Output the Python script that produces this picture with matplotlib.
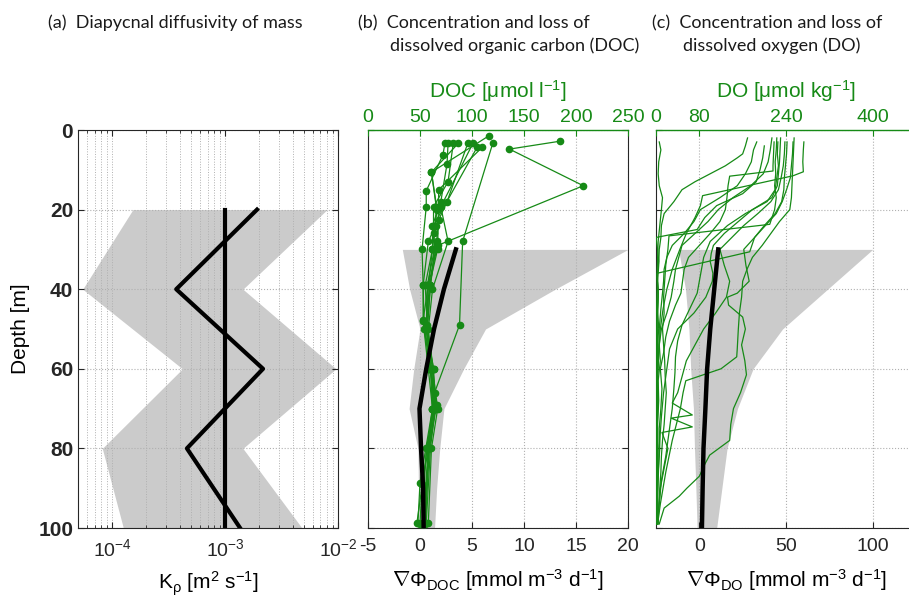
import matplotlib.pyplot as plt
from matplotlib.ticker import LogLocator, NullFormatter

plt.rcParams['font.family'] = ['Liberation Sans', 'DejaVu Sans']
plt.rcParams['mathtext.fontset'] = 'custom'
plt.rcParams['mathtext.rm'] = 'Liberation Sans'
plt.rcParams['mathtext.it'] = 'Liberation Sans:italic'
plt.rcParams['mathtext.sf'] = 'Liberation Sans'
plt.rcParams['xtick.direction'] = 'in'
plt.rcParams['ytick.direction'] = 'in'
plt.rcParams['axes.unicode_minus'] = False

green = '#168a16'
shade = '#cbcbcb'
gridcol = '#b0b0b0'
axcol = '#262626'

# ---- (a) diapycnal diffusivity ----
depth_k = [20, 40, 60, 80, 100]
k_ref = [1e-3, 1e-3, 1e-3, 1e-3, 1e-3]
k_profile = [1.92e-3, 3.7e-4, 2.17e-3, 4.6e-4, 1.36e-3]
k_low = [1.53e-4, 5.5e-5, 4.2e-4, 8.2e-5, 1.26e-4]
k_high = [8.0e-3, 1.44e-3, 9.6e-3, 1.44e-3, 4.8e-3]

# ---- (b) DOC flux divergence and DOC casts ----
depth_flux = [30, 40, 50, 60, 70, 80, 90, 100]
doc_flux_mean = [3.45, 2.3, 1.35, 0.6, -0.05, 0.1, 0.3, 0.35]
doc_flux_low = [-1.7, -1.0, 0.0, -0.6, -1.05, -0.2, -0.15, -0.1]
doc_flux_high = [20, 13, 6.3, 4.2, 2.3, 1.9, 1.6, 1.4]

doc_depths = [
    [2.8, 4.8, 14, 29, 39, 50, 60, 70, 80, 99],
    [1.5, 10.6, 20, 30, 39, 49, 60, 70, 89, 99],
    [3.3, 28, 49, 66, 80, 99],
    [3.3, 6.3, 15.3, 19.3, 29.9, 39, 50, 60, 70, 80, 98.8],
    [3.3, 8.5, 18, 24, 29.9, 39, 47.7, 60, 70, 80, 98.8],
    [3.3, 13, 19.3, 26, 29.9, 39, 50, 60, 69, 80, 98.8],
    [3.3, 10.6, 19.3, 24, 28, 39, 48, 60, 70, 88.7, 98.8],
    [3.3, 18, 22.6, 28, 39, 50, 60, 69, 80, 98.8],
    [3.3, 19.3, 28, 40, 50, 60, 70, 80, 98.8],
    [4.3, 24, 29.9, 39, 50, 60, 70, 80, 98.8],
    [4.3, 15, 29.9, 39, 50, 60, 70, 80, 98.8],
]
doc_values = [
    [185, 136, 207, 67, 58, 56, 62, 64, 56, 52],
    [116, 61, 66, 62, 55, 57, 60, 65, 52, 50],
    [120, 91, 88, 64, 58, 55],
    [74, 72, 56, 56, 52, 53, 54, 60, 62, 57, 47],
    [77, 76, 70, 62, 62, 58, 53, 61, 63, 58, 53],
    [82, 77, 63, 63, 64, 57, 56, 60, 66, 59, 55],
    [87, 61, 66, 65, 58, 53, 53, 58, 62, 50, 48],
    [96, 76, 68, 66, 60, 57, 63, 65, 60, 56],
    [101, 70, 77, 62, 58, 62, 67, 61, 58],
    [105, 63, 64, 60, 57, 60, 64, 59, 53],
    [110, 68, 67, 59, 56, 63, 62, 58, 55],
]

# ---- (c) DO flux divergence and DO profiles ----
do_flux_mean = [10.9, 8.6, 6.3, 4.5, 3.5, 2.4, 1.9, 1.5]
do_flux_low = [-12, -8, -6, -5, -3.4, -2.8, -2.0, -1.3]
do_flux_high = [100, 74, 48, 31, 22, 16, 13, 10]

do_depths = [
    [3, 5, 8, 11, 14, 17, 20, 24, 28, 32, 36, 40, 45, 50, 55, 60, 65, 70, 75, 80, 85, 90, 95, 99],
    [2, 4, 6, 7, 9, 11, 13, 15, 18, 21, 24, 27, 30, 34, 38, 42, 48, 55, 62, 70, 78, 86, 94, 99],
    [3, 5, 8, 11, 14, 17, 20, 23, 26, 29, 32, 35, 38, 41, 45, 50, 56, 62, 68, 75, 82, 90, 99],
    [4, 7, 10, 13, 16, 19, 22, 25, 27, 30, 33, 37, 41, 45, 50, 55, 60, 66, 72, 80, 88, 95, 99],
    [2, 5, 8, 11, 14, 17, 20, 23, 26, 29, 32, 35, 38, 42, 46, 50, 54, 58, 63, 68, 74, 80, 87, 94, 99],
    [3, 6, 9, 10.3, 11.6, 14, 17, 20, 23, 26, 29, 32, 35, 38, 41, 44, 48, 52, 56, 60, 65, 70, 75, 80,
     86, 92, 99],
    [2, 5, 8, 11, 14, 17, 20, 23.7, 26.6, 30, 34, 38, 42, 46, 50, 54, 58, 62, 66, 70, 74, 78, 82, 86,
     90, 95, 99],
    [3, 6, 9, 12, 15, 18, 21, 24, 28, 32, 35, 38, 41, 45, 49, 53, 57, 61, 65, 70, 76, 82, 88, 94, 99],
    [2, 5, 8, 11, 14, 17, 20, 23, 26, 29, 31, 33, 36, 38, 42, 46, 50, 55, 60, 66, 72, 80, 88, 95, 99],
    [3, 6, 9, 12, 15, 18, 21, 24, 27, 30, 34, 38, 42, 46, 50, 54, 58, 62, 66, 68.6, 71.6, 72.4, 74.6,
     76, 80, 85, 90, 95, 99],
    [3, 6, 9, 12, 15, 18, 21, 24, 27, 30.6, 36, 40, 45, 50, 56, 62, 70, 78, 86, 94, 99],
    [3, 6, 9, 12, 15, 18, 21, 24, 27, 30, 34, 38, 41, 42, 44, 47, 50, 54, 58, 61.5, 66, 70, 74, 78,
     81.7, 84, 87, 90, 92, 95, 99],
    [2, 5, 8, 11, 14, 17, 20, 23, 26, 29, 32, 35, 38, 42, 46, 50, 55, 57, 60, 63, 66, 70, 78, 86, 94, 99],
    [3, 5, 8, 10.5, 11.5, 16.5, 19, 22, 26, 30, 35, 40, 45, 50, 56, 62, 70, 78, 86, 94, 99],
]
do_values = [
    [6, 9, 5, 4, 6, 12, 10, 7, 4, 3, 2, 2, 1, 2, 1, 0, 1, 2, 1, 0, 1, 0, 1, 0],
    [169, 165, 160, 150, 128, 100, 72, 48, 33, 15, 10, 9, 6, 5, 3, 4, 2, 3, 1, 2, 1, 0, 1, 0],
    [186, 180, 176, 165, 150, 118, 82, 70, 52, 30, 20, 15, 14, 12, 9, 6, 5, 3, 4, 2, 3, 1, 0],
    [200, 197, 192, 185, 160, 112, 90, 76, 0, 3, 5, 2, 4, 3, 5, 2, 3, 1, 2, 1, 2, 0, 1],
    [214, 211, 207, 198, 175, 142, 115, 96, 72, 48, 42, 36, 33, 28, 20, 10, 6, 8, 4, 5, 3, 4, 2, 3, 1],
    [218, 217, 216, 216, 136, 133, 131, 128, 118, 100, 80, 60, 52, 49, 46, 36, 25, 18, 14, 8, 11, 9, 6,
     7, 4, 3, 2],
    [223, 222, 220, 221, 219, 222, 219, 210, 24, 22, 18, 16, 14, 15, 12, 14, 16, 17, 19, 17, 15, 12, 10,
     9, 7, 5, 4],
    [225, 224, 226, 223, 220, 205, 165, 132, 100, 88, 84, 80, 76, 62, 48, 40, 36, 35, 33, 30, 24, 18, 10,
     6, 3],
    [230, 229, 228, 226, 224, 214, 178, 152, 126, 106, 102, 100, 105, 104, 92, 70, 40, 25, 20, 14, 10, 6,
     4, 2, 1],
    [238, 237, 235, 231, 226, 212, 188, 162, 140, 118, 126, 136, 130, 110, 88, 72, 56, 48, 40, 30, 67,
     28, 67, 11, 22, 15, 8, 5, 3],
    [242, 241, 239, 237, 236, 232, 220, 200, 182, 173, 2, 4, 3, 1, 2, 1, 0, 1, 0, 1, 0],
    [253, 252, 250, 248, 241, 233, 222, 202, 182, 162, 166, 172, 150, 132, 134, 160, 165, 158, 164, 167,
     156, 143, 138, 136, 99, 90, 80, 57, 43, 15, 6],
    [255, 254, 253, 252, 251, 250, 247, 228, 212, 196, 178, 168, 160, 158, 154, 152, 150, 149, 120, 55,
     50, 45, 30, 18, 8, 3],
    [273, 272, 271, 272, 253, 86, 82, 72, 56, 44, 30, 20, 13, 8, 5, 3, 2, 1, 1, 0, 0],
]

depth_ticks = [0, 20, 40, 60, 80, 100]


def frame(ax, top=True):
    for side in ['left', 'right', 'bottom', 'top']:
        ax.spines[side].set_color(axcol)
        ax.spines[side].set_linewidth(0.8)
    ax.spines['top'].set_visible(top)
    ax.set_ylim(100, 0)
    ax.set_yticks(depth_ticks)
    ax.tick_params(axis='both', which='both', colors=axcol, labelsize=14,
                   left=True, right=True, bottom=True, top=top)
    ax.tick_params(which='major', length=4)
    ax.tick_params(which='minor', length=2)
    ax.tick_params(axis='x', pad=7)
    ax.grid(True, which='major', axis='y', ls=':', color=gridcol, lw=0.8)
    # grid above the shaded band, below the lines
    ax.set_axisbelow('line')


def green_top(ax, lim, ticks, label):
    top = ax.twiny()
    top.set_xlim(*lim)
    top.set_xticks(ticks)
    for side in ['left', 'right', 'bottom']:
        top.spines[side].set_visible(False)
    top.spines['top'].set_color(green)
    top.spines['top'].set_linewidth(1.0)
    top.tick_params(axis='x', colors=green, labelcolor=green, labelsize=14, length=4, pad=3)
    top.set_xlabel(label, color=green, fontsize=15, labelpad=8)
    return top


def overlay(ax, lim):
    over = ax.twiny()
    over.set_xlim(*lim)
    over.axis('off')
    return over


fig = plt.figure(figsize=(9.09, 6), dpi=100)
fig.patch.set_facecolor('white')
h0, hh, ww = 72 / 600, 398 / 600, 260 / 909

# (a)
ax_a = fig.add_axes([78 / 909, h0, ww, hh])
ax_a.fill_betweenx(depth_k, k_low, k_high, color=shade, lw=0)
ax_a.plot(k_ref, depth_k, color='black', lw=3)
ax_a.plot(k_profile, depth_k, color='black', lw=3)
ax_a.set_xscale('log')
ax_a.set_xlim(5e-5, 1e-2)
ax_a.xaxis.set_major_locator(LogLocator(base=10, numticks=10))
ax_a.xaxis.set_minor_locator(LogLocator(base=10, subs=range(2, 10), numticks=20))
ax_a.xaxis.set_minor_formatter(NullFormatter())
frame(ax_a)
ax_a.grid(True, which='both', axis='x', ls=':', color=gridcol, lw=0.7)
ax_a.tick_params(axis='y', labelsize=15)
for lab in ax_a.get_yticklabels():
    lab.set_fontweight('bold')
ax_a.set_ylabel('Depth [m]', fontsize=15, labelpad=6)
ax_a.set_xlabel(r'K$_{\mathrm{\rho}}$ [m$^2$ s$^{-1}$]', fontsize=15, labelpad=7)

# (b)
ax_b = fig.add_axes([368 / 909, h0, ww, hh])
ax_b.fill_betweenx(depth_flux, doc_flux_low, doc_flux_high, color=shade, lw=0)
ax_b.set_xlim(-5, 20)
ax_b.set_xticks([-5, 0, 5, 10, 15, 20])
frame(ax_b, top=False)
ax_b.grid(True, which='major', axis='x', ls=':', color=gridcol, lw=0.8)
ax_b.set_yticklabels([])
ax_b.set_xlabel(r'$\mathrm{\nabla\Phi}_{\mathrm{DOC}}$ [mmol m$^{-3}$ d$^{-1}$]', fontsize=15, labelpad=9)
ax_b_top = green_top(ax_b, (0, 250), [0, 50, 100, 150, 200, 250],
                     r'DOC [$\mathrm{\mu}$mol l$^{-1}$]')
for d, v in zip(doc_depths, doc_values):
    ax_b_top.plot(v, d, '-o', color=green, lw=0.9, ms=4.5, mec=green, mfc=green)
ax_b_mean = overlay(ax_b, (-5, 20))
ax_b_mean.plot(doc_flux_mean, depth_flux, color='black', lw=3.2)

# (c)
ax_c = fig.add_axes([656 / 909, h0, ww, hh])
ax_c.fill_betweenx(depth_flux, do_flux_low, do_flux_high, color=shade, lw=0)
ax_c.set_xlim(-25, 125)
ax_c.set_xticks([0, 50, 100])
frame(ax_c, top=False)
ax_c.grid(True, which='major', axis='x', ls=':', color=gridcol, lw=0.8)
ax_c.set_yticklabels([])
ax_c.set_xlabel(r'$\mathrm{\nabla\Phi}_{\mathrm{DO}}$ [mmol m$^{-3}$ d$^{-1}$]', fontsize=15, labelpad=9)
ax_c_top = green_top(ax_c, (0, 480), [0, 80, 240, 400], r'DO [$\mathrm{\mu}$mol kg$^{-1}$]')
for d, v in zip(do_depths, do_values):
    ax_c_top.plot(v, d, '-', color=green, lw=0.9)
ax_c_mean = overlay(ax_c, (-25, 125))
ax_c_mean.plot(do_flux_mean, depth_flux, color='black', lw=3.2)

# panel headings
tfont = dict(family='Lato', fontsize=13, color='#1a1a1a', va='center', ha='left')
fig.text(48 / 909, 1 - 23 / 600, '(a)  Diapycnal diffusivity of mass', **tfont)
fig.text(358 / 909, 1 - 23 / 600, '(b)  Concentration and loss of', **tfont)
fig.text(390 / 909, 1 - 46 / 600, 'dissolved organic carbon (DOC)', **tfont)
fig.text(652 / 909, 1 - 23 / 600, '(c)  Concentration and loss of', **tfont)
fig.text(683 / 909, 1 - 46 / 600, 'dissolved oxygen (DO)', **tfont)

fig.savefig('out.png', dpi=100, facecolor='white')
